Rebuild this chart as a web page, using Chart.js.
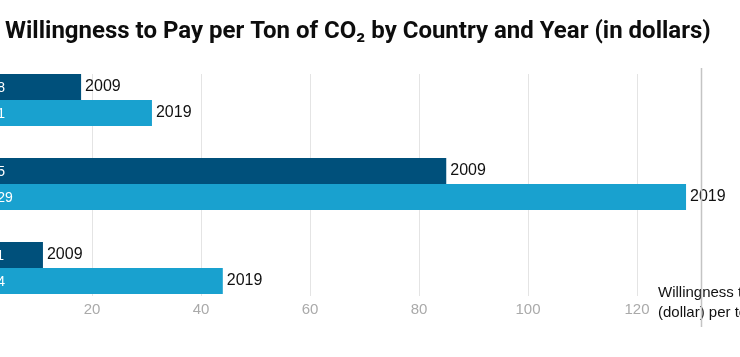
<!DOCTYPE html>
<html><head><meta charset="utf-8">
<script src="https://cdn.jsdelivr.net/npm/chart.js@4/dist/chart.umd.min.js"></script>
<style>html,body{margin:0;padding:0;background:#fff;overflow:hidden}#wrap{position:relative;width:740px;height:357px}</style>
</head><body><div id="wrap"><canvas id="c" width="740" height="357"></canvas></div>
<script>
const titleText = 'Willingness to Pay per Ton of CO\u2082 by Country and Year (in dollars)';
const categories = ['Country A', 'Country B', 'Country C'];
const seriesLabels = ['2009', '2019'];
const values2009 = [18, 85, 11];
const values2019 = [31, 129, 44];
const xTickLabels = [20, 40, 60, 80, 100, 120];
const axisTitle = ['Willingness to pay', '(dollar) per ton'];

// fit title width
const mctx = document.createElement('canvas').getContext('2d');
mctx.font = 'bold 20px Roboto';
const tw = mctx.measureText(titleText).width;
const titleSize = Math.round(20 * 705 / tw * 10) / 10;
const titleTop = 31.5 - 0.6 * titleSize;
const titleBottom = 58 - titleTop - 1.2 * titleSize;

const gridPlugin = {
  id: 'gridPlugin',
  beforeDatasetsDraw(chart) {
    const ctx = chart.ctx, xs = chart.scales.x, ca = chart.chartArea;
    ctx.save();
    ctx.strokeStyle = '#e4e4e4';
    ctx.lineWidth = 1;
    xTickLabels.forEach(v => {
      const x = Math.round(xs.getPixelForValue(v)) + 0.5;
      ctx.beginPath();
      ctx.moveTo(x, ca.top + 16);
      ctx.lineTo(x, ca.bottom - 14);
      ctx.stroke();
    });
    ctx.restore();
  }
};

const labelPlugin = {
  id: 'labelPlugin',
  afterDatasetsDraw(chart) {
    const ctx = chart.ctx, xs = chart.scales.x;
    const zero = xs.getPixelForValue(0);
    ctx.save();
    ctx.textBaseline = 'middle';
    chart.data.datasets.forEach((ds, di) => {
      const meta = chart.getDatasetMeta(di);
      meta.data.forEach((el, i) => {
        ctx.font = '14px "Liberation Sans"';
        ctx.fillStyle = '#ffffff';
        ctx.textAlign = 'left';
        ctx.fillText(String(ds.data[i]), zero + 6.5, el.y + 1);
        ctx.font = '16px "Liberation Sans"';
        ctx.fillStyle = '#111111';
        ctx.fillText(ds.label, el.x + 4, el.y);
      });
    });
    ctx.restore();
  },
  afterDraw(chart) {
    const ctx = chart.ctx;
    ctx.save();
    ctx.font = '15px "Liberation Sans"';
    ctx.fillStyle = '#111111';
    ctx.textBaseline = 'middle';
    ctx.textAlign = 'left';
    ctx.fillText(axisTitle[0], 658, 293);
    ctx.fillText(axisTitle[1], 658, 313);
    ctx.strokeStyle = '#c4c4c4';
    ctx.lineWidth = 1.5;
    ctx.beginPath();
    ctx.moveTo(701.5, 68);
    ctx.lineTo(701.5, 327);
    ctx.stroke();
    ctx.restore();
  }
};

new Chart(document.getElementById('c'), {
  type: 'bar',
  data: {
    labels: categories,
    datasets: [
      { label: seriesLabels[0], data: values2009, backgroundColor: '#00507b', base: 0, clip: false,
        barPercentage: 1, categoryPercentage: 0.62 },
      { label: seriesLabels[1], data: values2019, backgroundColor: '#19a1cf', base: 0, clip: false,
        barPercentage: 1, categoryPercentage: 0.62 }
    ]
  },
  options: {
    indexAxis: 'y',
    responsive: false,
    animation: false,
    devicePixelRatio: 1,
    layout: { padding: { left: 5, right: 0, top: 0, bottom: 0 } },
    plugins: {
      legend: { display: false },
      tooltip: { enabled: false },
      title: {
        display: true, text: titleText, align: 'start', color: '#0d0d0d',
        font: { family: 'Roboto', weight: 'bold', size: titleSize, lineHeight: 1.2 },
        padding: { top: titleTop, bottom: titleBottom }
      }
    },
    scales: {
      x: {
        type: 'linear', min: 22 / 5.45, max: 757 / 5.45,
        grid: { display: false, drawTicks: false },
        border: { display: false },
        ticks: {
          stepSize: 20, includeBounds: false, padding: -9, color: '#aaaaaa',
          font: { family: 'Liberation Sans', size: 15 },
          maxRotation: 0,
          callback: v => xTickLabels.includes(v) ? String(v) : ''
        },
        afterFit(s) {
          s.height = 47;
          s._computeLabelArea = () => undefined;
        }
      },
      y: { display: false }
    }
  },
  plugins: [gridPlugin, labelPlugin]
});
</script></body></html>
